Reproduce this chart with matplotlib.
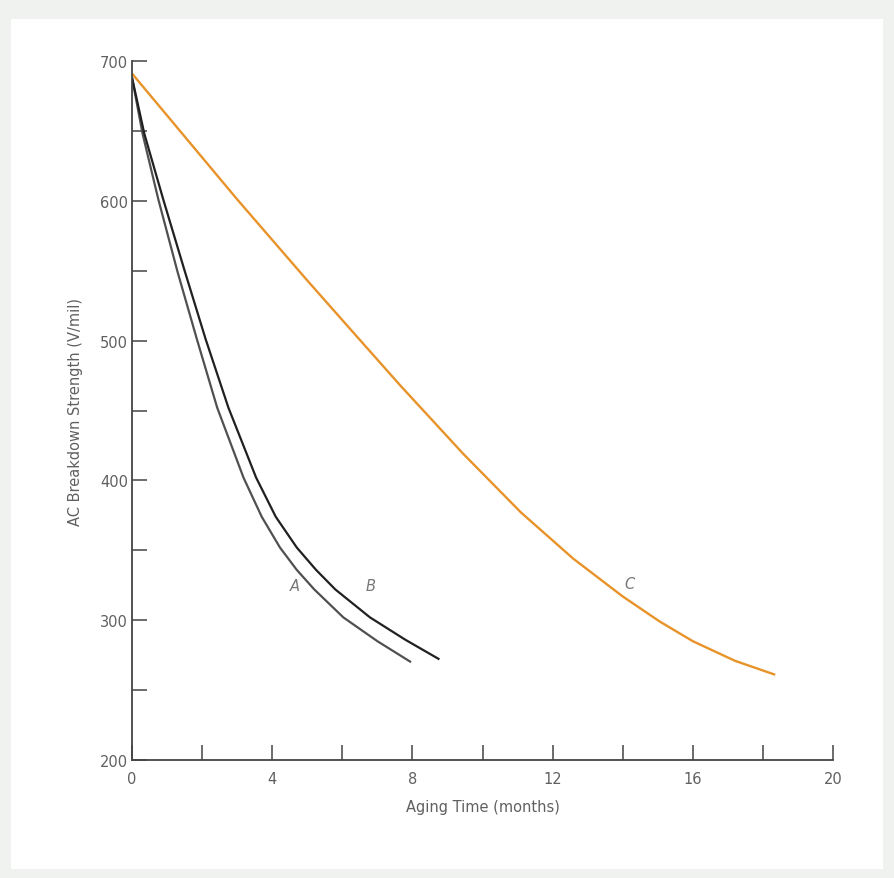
import matplotlib
matplotlib.use("Agg")
import matplotlib.pyplot as plt
from matplotlib.patches import Rectangle

plt.rcParams['font.family'] = ['DejaVu Sans']

# Data
time_a = [0, 0.3, 0.75, 1.3, 1.85, 2.43, 3.18, 3.7, 4.22, 4.7, 5.2, 6.03, 7.0, 7.96]
strength_a = [688, 648, 601, 549, 501, 452, 402, 374, 352, 336, 322, 302, 285, 270]

time_b = [0, 0.35, 0.89, 1.5, 2.1, 2.75, 3.54, 4.1, 4.7, 5.25, 5.8, 6.79, 7.8, 8.77]
strength_b = [688, 648, 601, 550, 501, 452, 402, 374, 352, 336, 322, 302, 286, 272]

time_c = [0, 3.0, 5.0, 6.27, 7.65, 9.45, 11.1, 12.59, 14.0, 15.06, 16.0, 17.2, 18.35]
strength_c = [691, 601, 543, 507, 468, 419, 377, 344, 317, 299, 285, 271, 261]

x_major = [0, 4, 8, 12, 16, 20]
y_major = [200, 300, 400, 500, 600, 700]

fig = plt.figure(figsize=(8.94, 8.79), dpi=100)
fig.patch.set_facecolor('#f0f2f0')
bg = Rectangle((0.012, 0.01), 0.976, 0.967, transform=fig.transFigure,
               facecolor='white', edgecolor='none', zorder=-10)
fig.patches.append(bg)

ax = fig.add_axes([0.1477, 0.1342, 0.7841, 0.7953])
ax.set_facecolor('none')
ax.set_zorder(5)

ax.plot(time_a, strength_a, color='#505050', lw=1.6, solid_capstyle='butt')
ax.plot(time_b, strength_b, color='#202020', lw=1.6, solid_capstyle='butt')
ax.plot(time_c, strength_c, color='#e8932a', lw=1.7, solid_capstyle='butt')

ax.text(4.65, 324.5, 'A', style='italic', color='#777777', fontsize=10.5, ha='center', va='center')
ax.text(6.8, 324.5, 'B', style='italic', color='#777777', fontsize=10.5, ha='center', va='center')
ax.text(14.2, 326, 'C', style='italic', color='#777777', fontsize=10.5, ha='center', va='center')

ax.set_xlim(0, 20)
ax.set_ylim(200, 700)
ax.set_xticks(x_major)
ax.set_xticks(list(range(0, 21, 2)), minor=True)
ax.set_yticks(y_major)
ax.set_yticks(list(range(200, 701, 50)), minor=True)

for s in ['top', 'right']:
    ax.spines[s].set_visible(False)
for s in ['left', 'bottom']:
    ax.spines[s].set_color('#444444')
    ax.spines[s].set_linewidth(1.3)

ax.tick_params(which='both', direction='in', length=10.5, width=1.1, color='#444444')
ax.tick_params(axis='both', which='major', labelsize=10.5, labelcolor='#606060')
ax.tick_params(axis='x', which='major', pad=8)
ax.tick_params(axis='y', which='major', pad=3)

ax.set_xlabel('Aging Time (months)', fontsize=10.5, color='#606060', labelpad=9)
ax.set_ylabel('AC Breakdown Strength (V/mil)', fontsize=10.5, color='#606060', labelpad=12)

fig.savefig('out.png', dpi=100, facecolor=fig.get_facecolor())
